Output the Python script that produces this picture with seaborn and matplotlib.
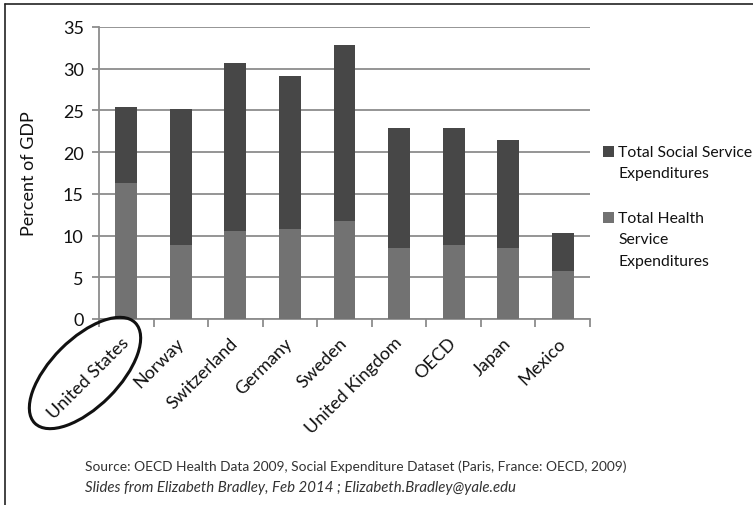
import matplotlib
matplotlib.use("Agg")
import matplotlib.pyplot as plt
from matplotlib.patches import Ellipse, Rectangle
from matplotlib.lines import Line2D
import seaborn as sns
import pandas as pd
import numpy as np

countries = ["United States", "Norway", "Switzerland", "Germany", "Sweden",
             "United Kingdom", "OECD", "Japan", "Mexico"]
social = [9.1, 16.3, 20.2, 18.3, 21.1, 14.4, 14.0, 12.95, 4.5]
health = [16.3, 8.9, 10.5, 10.8, 11.8, 8.5, 8.9, 8.55, 5.8]
yticks = [0, 5, 10, 15, 20, 25, 30, 35]
legend_labels = ["Total Social Service\nExpenditures",
                 "Total Health\nService\nExpenditures"]
source_line = "Source: OECD Health Data 2009, Social Expenditure Dataset (Paris, France: OECD, 2009)"
credit_line = "Slides from Elizabeth Bradley, Feb 2014 ; Elizabeth.Bradley@yale.edu"

sns.set_theme(style="white")
plt.rcParams["font.family"] = ["Lato", "DejaVu Sans"]

DARK = "#474747"
LIGHT = "#727272"
GRID = "#8c8c8c"
TXT = "#111111"

df = pd.DataFrame({"country": countries, "health": health, "social": social})
df["total"] = df["health"] + df["social"]

W, H = 753, 506
fig = plt.figure(figsize=(W / 100, H / 100), dpi=100)
ax = fig.add_axes([99 / W, 1 - 320 / H, (590 - 99) / W, (320 - 28) / H])

sns.barplot(data=df, x="country", y="total", color=DARK, width=0.4,
            saturation=1, ax=ax, zorder=3)
sns.barplot(data=df, x="country", y="health", color=LIGHT, width=0.4,
            saturation=1, ax=ax, zorder=4)
for p in ax.patches:
    p.set_edgecolor("none")

ax.set_ylim(0, 35)
ax.set_xlim(-0.5, len(countries) - 0.5)
ax.set_yticks(yticks)
ax.set_yticklabels([str(v) for v in yticks])
ax.yaxis.grid(True, color=GRID, linewidth=1.3, zorder=0)
ax.set_axisbelow(True)

for s in ["top", "right"]:
    ax.spines[s].set_visible(False)
for s in ["left", "bottom"]:
    ax.spines[s].set_color(GRID)
    ax.spines[s].set_linewidth(1.3)

ax.tick_params(axis="y", which="major", left=True, length=5, width=1.3,
               color=GRID, pad=6, labelsize=13, labelcolor=TXT)
ax.set_xticks(np.arange(len(countries)))
ax.set_xticklabels(countries, rotation=45, ha="right", va="center",
                   rotation_mode="anchor", fontsize=13, color=TXT)
ax.tick_params(axis="x", which="major", bottom=False, pad=9)
ax.set_xticks(np.arange(len(countries) + 1) - 0.5, minor=True)
ax.tick_params(axis="x", which="minor", bottom=True, length=6, width=1.3,
               color=GRID)

ax.set_xlabel("")
ax.set_ylabel("Percent of GDP", fontsize=13, color=TXT)
ax.yaxis.set_label_coords(-0.126, 0.5)

# legend (handle aligned with the first line of each label, as in the original)
px = fig.dpi_scale_trans  # inches; 1 inch = 100 px


def fy(y_px):
    return (H - y_px) / 100


entry_tops = [157, 223]      # baseline of first line, in pixels from top
line_step = 21.5
for lab, col, base in zip(legend_labels, [DARK, LIGHT], entry_tops):
    fig.patches.append(Rectangle((603 / 100, fy(base + 0.5)), 0.105, 0.105,
                                 transform=px, facecolor=col,
                                 edgecolor="none"))
    for i, line in enumerate(lab.split("\n")):
        fig.text(618 / 100, fy(base + i * line_step), line, transform=px,
                 fontsize=11.3, color=TXT, ha="left", va="baseline")

# circle around United States
ell = Ellipse((85 / 100, (H - 374) / 100), 1.42, 0.68, angle=45,
              transform=px, fill=False, edgecolor="#111111", linewidth=2.2)
fig.patches.append(ell)

# frame lines (left and top)
fig.add_artist(Line2D([4.5 / W, 4.5 / W], [0, 1 - 5 / H],
                      transform=fig.transFigure, color="#222222", linewidth=1.2))
fig.add_artist(Line2D([4.5 / W, 1], [1 - 5 / H, 1 - 5 / H],
                      transform=fig.transFigure, color="#222222", linewidth=1.2))

fig.text(85 / W, 1 - 471 / H, source_line, fontsize=9.9, color="#333333",
         va="baseline", ha="left")
fig.text(85 / W, 1 - 492 / H, credit_line, fontsize=10.8, color="#333333",
         va="baseline", ha="left", style="italic")

fig.savefig("out.png", dpi=100)
